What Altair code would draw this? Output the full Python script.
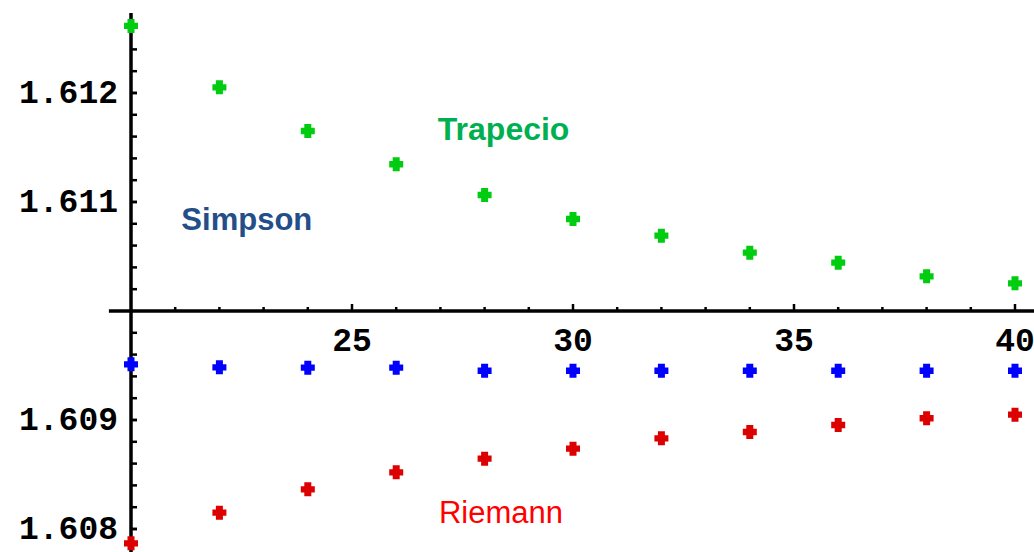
import altair as alt
import pandas as pd

# ---- data ----
n_values = [20, 22, 24, 26, 28, 30, 32, 34, 36, 38, 40]
trapecio = [1.612615, 1.612052, 1.611651, 1.611346, 1.611064, 1.610844,
            1.610691, 1.610535, 1.610443, 1.610318, 1.610254]
simpson = [1.609511, 1.609483, 1.609480, 1.609480, 1.609452, 1.609452,
           1.609452, 1.609452, 1.609452, 1.609452, 1.609452]
riemann = [1.607869, 1.608150, 1.608364, 1.608520, 1.608645, 1.608737,
           1.608832, 1.608890, 1.608954, 1.609016, 1.609049]

series_names = ["Trapecio", "Simpson", "Riemann"]
point_colors = ["#00CC10", "#0000FF", "#DD0000"]

y_major_ticks = [1.608, 1.609, 1.611, 1.612]
y_major_labels = ["1.608", "1.609", "1.611", "1.612"]
y_minor_ticks = [1.6080, 1.6082, 1.6084, 1.6086, 1.6088, 1.6090, 1.6092, 1.6094,
                 1.6096, 1.6098, 1.6102, 1.6104, 1.6106, 1.6108, 1.6110,
                 1.6112, 1.6114, 1.6116, 1.6118, 1.6120, 1.6122, 1.6124, 1.6126]
x_major_ticks = [25, 30, 35, 40]
x_major_labels = ["25", "30", "35", "40"]
x_minor_ticks = [21, 22, 23, 24, 26, 27, 28, 29, 31, 32, 33, 34,
                 36, 37, 38, 39]

annot_text = ["Trapecio", "Simpson", "Riemann"]
annot_x = [28.43, 22.62, 28.37]
annot_y = [1.611568, 1.610745, 1.608058]
annot_colors = ["#00B050", "#234E88", "#FF0000"]
annot_weights = ["bold", "bold", "normal"]
annot_sizes = [32, 31, 31]

x_origin = 20
y_origin = 1.610
x_domain = [17.036, 40.43]
y_domain = [1.607789, 1.612853]
y_axis_top = 1.612734
x_axis_left = 19.5

# ---- tables ----
pts = pd.DataFrame({
    "n": n_values * 3,
    "v": trapecio + simpson + riemann,
    "s": ["Trapecio"] * 11 + ["Simpson"] * 11 + ["Riemann"] * 11,
})

xs = alt.Scale(domain=x_domain, nice=False, zero=False)
ys = alt.Scale(domain=y_domain, nice=False, zero=False)

plus_path = "M-0.5,-1H0.5V-0.45H1V0.45H0.5V1H-0.5V0.45H-1V-0.45H-0.5Z"

points = alt.Chart(pts).mark_point(
    shape=plus_path, filled=True, size=196, opacity=1, strokeWidth=0
).encode(
    x=alt.X("n:Q", scale=xs, axis=None),
    y=alt.Y("v:Q", scale=ys, axis=None),
    color=alt.Color("s:N", scale=alt.Scale(domain=series_names, range=point_colors), legend=None),
)

# axis lines
yline = alt.Chart(pd.DataFrame({"a": [0]})).mark_rule(color="black", strokeWidth=3.5).encode(
    x=alt.X("x:Q", scale=xs, axis=None),
    y=alt.Y("y1:Q", scale=ys, axis=None),
    y2="y2:Q",
).transform_calculate(x=str(x_origin), y1=str(y_axis_top), y2=str(y_domain[0]))

xline = alt.Chart(pd.DataFrame({"a": [0]})).mark_rule(color="black", strokeWidth=3.5).encode(
    x=alt.X("x1:Q", scale=xs, axis=None),
    x2="x2:Q",
    y=alt.Y("y:Q", scale=ys, axis=None),
).transform_calculate(x1=str(x_axis_left), x2=str(x_domain[1]), y=str(y_origin))

# y ticks (pointing right)
ytick_df = pd.DataFrame({"t": y_minor_ticks + y_major_ticks})
yticks = alt.Chart(ytick_df).mark_rule(color="black", strokeWidth=2.5, x2Offset=6).encode(
    x=alt.X("xo:Q", scale=xs, axis=None),
    x2="xo:Q",
    y=alt.Y("t:Q", scale=ys, axis=None),
).transform_calculate(xo=str(x_origin))

# x ticks (pointing up)
xminor = alt.Chart(pd.DataFrame({"t": x_minor_ticks})).mark_rule(
    color="black", strokeWidth=2.5, y2Offset=-4
).encode(
    x=alt.X("t:Q", scale=xs, axis=None),
    y=alt.Y("yo:Q", scale=ys, axis=None),
    y2="yo:Q",
).transform_calculate(yo=str(y_origin))

xmajor = alt.Chart(pd.DataFrame({"t": x_major_ticks})).mark_rule(
    color="black", strokeWidth=2.5, y2Offset=-7
).encode(
    x=alt.X("t:Q", scale=xs, axis=None),
    y=alt.Y("yo:Q", scale=ys, axis=None),
    y2="yo:Q",
).transform_calculate(yo=str(y_origin))

# tick labels
ylab = alt.Chart(pd.DataFrame({"t": y_major_ticks, "lab": y_major_labels})).mark_text(
    font="Liberation Mono", fontWeight="bold", fontSize=33, align="right",
    baseline="middle", dx=-13, dy=0, color="black"
).encode(
    x=alt.X("xo:Q", scale=xs, axis=None),
    y=alt.Y("t:Q", scale=ys, axis=None),
    text="lab:N",
).transform_calculate(xo=str(x_origin))

xlab = alt.Chart(pd.DataFrame({"t": x_major_ticks, "lab": x_major_labels})).mark_text(
    font="Liberation Mono", fontWeight="bold", fontSize=33, align="center",
    baseline="middle", dy=30, color="black"
).encode(
    x=alt.X("t:Q", scale=xs, axis=None),
    y=alt.Y("yo:Q", scale=ys, axis=None),
    text="lab:N",
).transform_calculate(yo=str(y_origin))

# series annotations
ann = pd.DataFrame({"x": annot_x, "y": annot_y, "txt": annot_text})
ann_layers = []
for i in range(len(annot_text)):
    ann_layers.append(
        alt.Chart(ann.iloc[[i]]).mark_text(
            font="Liberation Sans", fontSize=annot_sizes[i], fontWeight=annot_weights[i],
            align="center", baseline="alphabetic", color=annot_colors[i]
        ).encode(
            x=alt.X("x:Q", scale=xs, axis=None),
            y=alt.Y("y:Q", scale=ys, axis=None),
            text="txt:N",
        )
    )

chart = alt.layer(
    yline, xline, yticks, xminor, xmajor, ylab, xlab, *ann_layers, points
).properties(
    width=1034, height=552, padding=0, autosize=alt.AutoSizeParams(type="none"),
    background="white"
).configure_view(stroke=None)

chart.save("out.html", embed_options={"renderer": "svg", "actions": False})
